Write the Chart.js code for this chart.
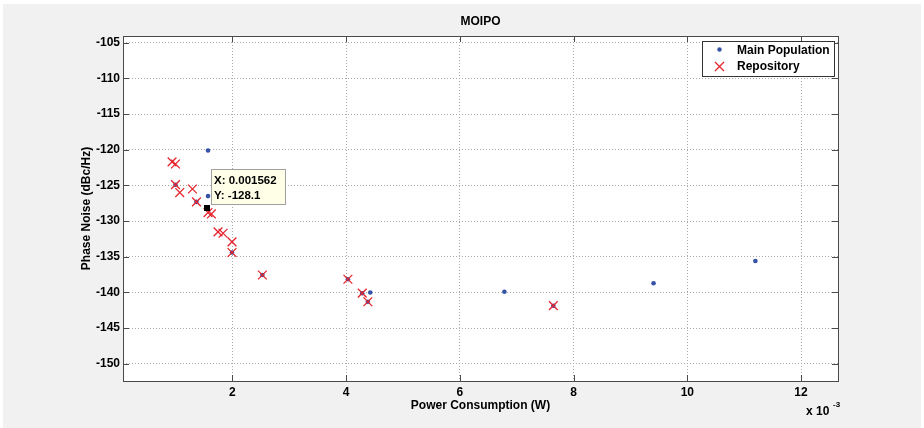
<!DOCTYPE html>
<html>
<head>
<meta charset="utf-8">
<script src="https://cdn.jsdelivr.net/npm/chart.js@4/dist/chart.umd.min.js"></script>
<style>
  html, body { margin: 0; padding: 0; background: #fff; }
  canvas { display: block; }
</style>
</head>
<body>
<canvas id="my_chart" width="924" height="428"></canvas>
<script>
// power consumption (W) / phase noise (dBc/Hz)
const main_x = [0.001571, 0.001571, 0.001562, 0.004424, 0.006783, 0.009406, 0.011197,
    0.000999, 0.001368, 0.001993, 0.002527, 0.004031, 0.004283, 0.004382, 0.007644];
const main_y = [-120.1, -126.5, -128.1, -140.0, -139.9, -138.7, -135.6,
    -124.9, -127.3, -134.4, -137.55, -138.15, -140.1, -141.3, -141.85];

const repo_x = [0.000939, 0.000999, 0.000999, 0.001074, 0.001297, 0.001368, 0.001571, 0.001631,
    0.001747, 0.001835, 0.001993, 0.001993, 0.002527, 0.004031, 0.004283, 0.004382, 0.007644];
const repo_y = [-121.7, -122.0, -124.9, -126.0, -125.5, -127.3, -128.8, -129.0,
    -131.5, -131.7, -132.9, -134.4, -137.55, -138.15, -140.1, -141.3, -141.85];

const series_names = ['Main Population', 'Repository'];
const datatip = { x: 0.001562, y: -128.1 };

const FONT = '"Liberation Sans", Arial, sans-serif';
const BLUE = '#3553a6';
const RED = '#e5252d';

const to_points = (xs, ys) => xs.map((x, i) => ({ x: x, y: ys[i] }));

const background = {
    id: 'background',
    beforeDraw(chart) {
        const ctx = chart.ctx;
        const a = chart.chartArea;
        ctx.save();
        ctx.fillStyle = '#ffffff';
        ctx.fillRect(0, 0, chart.width, chart.height);
        ctx.fillStyle = '#f0f1f0';
        ctx.fillRect(3, 4, chart.width - 6, chart.height - 4);
        ctx.fillStyle = '#ffffff';
        ctx.fillRect(a.left, a.top, a.right - a.left, a.bottom - a.top);
        ctx.restore();
    }
};

// MATLAB style box with inward ticks on all four sides
const axes_box = {
    id: 'axes_box',
    beforeDatasetsDraw(chart) {
        const ctx = chart.ctx;
        const a = chart.chartArea;
        const len = 6;
        ctx.save();
        ctx.strokeStyle = '#4a4a4a';
        ctx.lineWidth = 1;
        ctx.beginPath();
        chart.scales.x.ticks.forEach(t => {
            const px = Math.round(chart.scales.x.getPixelForValue(t.value)) + 0.5;
            ctx.moveTo(px, a.bottom); ctx.lineTo(px, a.bottom - len);
            ctx.moveTo(px, a.top); ctx.lineTo(px, a.top + len);
        });
        chart.scales.y.ticks.forEach(t => {
            const py = Math.round(chart.scales.y.getPixelForValue(t.value)) + 0.5;
            ctx.moveTo(a.left, py); ctx.lineTo(a.left + len, py);
            ctx.moveTo(a.right, py); ctx.lineTo(a.right - len, py);
        });
        ctx.stroke();
        ctx.strokeRect(Math.round(a.left) + 0.5, Math.round(a.top) + 0.5,
            Math.round(a.right - a.left), Math.round(a.bottom - a.top));
        ctx.restore();
    }
};

const labels = {
    id: 'labels',
    afterDraw(chart) {
        const ctx = chart.ctx;
        const a = chart.chartArea;
        const cx = (a.left + a.right) / 2;
        ctx.save();
        ctx.fillStyle = '#000';
        ctx.font = 'bold 12px ' + FONT;
        ctx.textAlign = 'center';
        ctx.textBaseline = 'middle';
        ctx.fillText('MOIPO', cx, 22);
        ctx.fillText('Power Consumption (W)', cx, 406);
        ctx.save();
        ctx.translate(87, (a.top + a.bottom) / 2);
        ctx.rotate(-Math.PI / 2);
        ctx.fillText('Phase Noise (dBc/Hz)', 0, 0);
        ctx.restore();
        // exponent
        ctx.textAlign = 'left';
        ctx.fillText('x 10', 806, 412);
        ctx.font = 'bold 8px ' + FONT;
        ctx.fillText('-3', 833, 405);

        // legend
        const lx = 702, ly = 41, lw = 132, lh = 35;
        ctx.fillStyle = '#ffffff';
        ctx.fillRect(lx, ly, lw, lh);
        ctx.strokeStyle = '#333';
        ctx.lineWidth = 1;
        ctx.strokeRect(lx + 0.5, ly + 0.5, lw, lh);
        ctx.fillStyle = BLUE;
        ctx.beginPath();
        ctx.arc(719.5, 49.5, 2.2, 0, Math.PI * 2);
        ctx.fill();
        ctx.strokeStyle = RED;
        ctx.lineWidth = 1.3;
        ctx.beginPath();
        ctx.moveTo(715, 62); ctx.lineTo(724, 71);
        ctx.moveTo(724, 62); ctx.lineTo(715, 71);
        ctx.stroke();
        ctx.fillStyle = '#000';
        ctx.font = 'bold 12px ' + FONT;
        ctx.textBaseline = 'alphabetic';
        ctx.fillText(series_names[0], 737, 53.5);
        ctx.fillText(series_names[1], 737, 69.5);

        // data tip
        const px = chart.scales.x.getPixelForValue(datatip.x);
        const py = chart.scales.y.getPixelForValue(datatip.y);
        ctx.fillStyle = '#000';
        ctx.fillRect(Math.round(px) - 3, Math.round(py) - 3, 6, 6);
        const bx = Math.round(px) + 4, by = Math.round(py) - 39;
        ctx.fillStyle = '#ffffe8';
        ctx.fillRect(bx, by, 74, 35);
        ctx.strokeStyle = '#a0a0a0';
        ctx.lineWidth = 1;
        ctx.strokeRect(bx + 0.5, by + 0.5, 74, 35);
        ctx.fillStyle = '#000';
        ctx.font = 'bold 11.5px ' + FONT;
        ctx.fillText('X: ' + datatip.x, bx + 3, by + 15);
        ctx.fillText('Y: ' + datatip.y, bx + 3, by + 30);
        ctx.restore();
    }
};

const canvas = document.getElementById('my_chart');

let chart = new Chart(canvas, {
    type: 'scatter',
    data: {
        datasets: [{
            label: series_names[0],
            data: to_points(main_x, main_y),
            pointStyle: 'circle',
            pointRadius: 2.3,
            backgroundColor: BLUE,
            borderColor: BLUE,
            borderWidth: 0,
            order: 1
        }, {
            label: series_names[1],
            data: to_points(repo_x, repo_y),
            pointStyle: 'crossRot',
            pointRadius: 6.2,
            borderColor: RED,
            backgroundColor: RED,
            borderWidth: 1.3,
            order: 0
        }]
    },
    options: {
        responsive: false,
        animation: false,
        devicePixelRatio: 1,
        layout: { padding: { top: 36, right: 86, left: 0, bottom: 0 } },
        plugins: {
            legend: { display: false },
            title: { display: false },
            tooltip: { enabled: false }
        },
        scales: {
            x: {
                type: 'linear',
                min: 0.000076,
                max: 0.01265,
                afterFit(scale) { scale.height = 47; },
                grid: { color: '#a8a8a8', drawTicks: false, lineWidth: 1 },
                border: { display: false, dash: [1, 2] },
                ticks: {
                    stepSize: 0.002,
                    includeBounds: false,
                    padding: 4,
                    color: '#000',
                    font: { family: FONT, size: 12, weight: 'bold' },
                    callback: (v) => String(Math.round(v * 1000))
                }
            },
            y: {
                type: 'linear',
                min: -152.4,
                max: -104.07,
                afterFit(scale) { scale.width = 123; },
                grid: { color: '#a8a8a8', drawTicks: false, lineWidth: 1 },
                border: { display: false, dash: [1, 2] },
                ticks: {
                    stepSize: 5,
                    includeBounds: false,
                    padding: 3,
                    color: '#000',
                    font: { family: FONT, size: 12, weight: 'bold' }
                }
            }
        }
    },
    plugins: [background, axes_box, labels]
});
</script>
</body>
</html>
